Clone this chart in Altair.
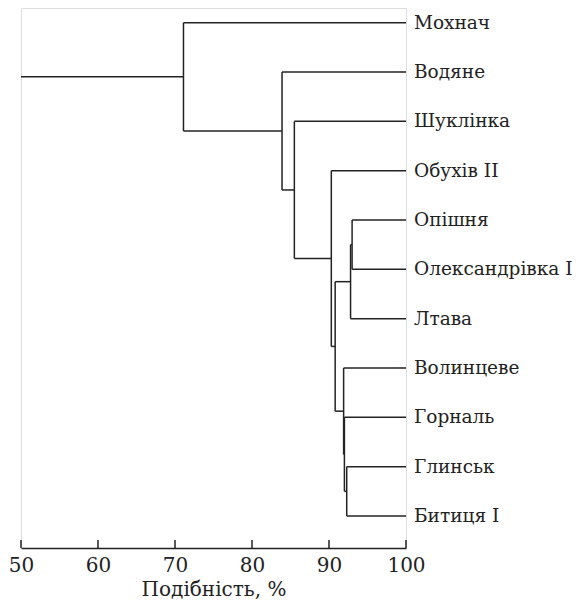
import altair as alt
import pandas as pd

# Leaves (top to bottom)
leaves = ["Мохнач", "Водяне", "Шуклінка", "Обухів II", "Опішня",
          "Олександрівка I", "Лтава", "Волинцеве", "Горналь", "Глинськ", "Битиця I"]

# Merges: child a, child b (leaf index or node ref "N<k>"), similarity %
merge_a = [4, "N0", 9, 8, 7, "N1", 3, 2, 1, 0]
merge_b = [5, 6, 10, "N2", "N3", "N4", "N5", "N6", "N7", "N8"]
merge_val = [93.0, 92.8, 92.3, 92.0, 91.9, 90.8, 90.3, 85.5, 83.9, 71.1]

root_start = 50
ticks = [50, 60, 70, 80, 90, 100]
leaf_end = 100

pos = {}
for i, name in enumerate(leaves):
    pos[i] = (i, leaf_end)

segs = []
for k, (a, b, v) in enumerate(zip(merge_a, merge_b, merge_val)):
    ya, xa = pos[a]
    yb, xb = pos[b]
    segs.append(dict(x=v, x2=xa, y=ya, y2=ya))
    segs.append(dict(x=v, x2=xb, y=yb, y2=yb))
    segs.append(dict(x=v, x2=v, y=ya, y2=yb))
    pos["N%d" % k] = ((ya + yb) / 2, v)

top_y, top_x = pos["N%d" % (len(merge_val) - 1)]
segs.append(dict(x=root_start, x2=top_x, y=top_y, y2=top_y))
seg_df = pd.DataFrame(segs)

lab_df = pd.DataFrame({"name": leaves, "y": list(range(len(leaves))), "x": [leaf_end] * len(leaves)})
tick_df = pd.DataFrame({"t": ticks})

FONT = "DejaVu Serif"
FS = 20
LFS = 18.5
COL = "#222222"

xs = alt.Scale(domain=[50, 100], nice=False, zero=False)
ys = alt.Scale(domain=[-0.298, 10.649], reverse=True, nice=False, zero=False)

lines = alt.Chart(seg_df).mark_rule(color=COL, strokeWidth=1.5).encode(
    x=alt.X("x:Q", scale=xs, axis=alt.Axis(
        values=ticks, title="Подібність, %", grid=False, tickSize=0,
        labelFont=FONT, labelFontSize=FS, labelColor=COL, labelPadding=7,
        titleFont=FONT, titleFontSize=FS, titleFontWeight="normal", titleColor=COL,
        titlePadding=4, domainColor=COL, domainWidth=1.5, labelFlush=False)),
    x2="x2:Q",
    y=alt.Y("y:Q", scale=ys, axis=None),
    y2="y2:Q",
)

labels = alt.Chart(lab_df).mark_text(
    align="left", baseline="middle", dx=8, font=FONT, fontSize=LFS, color=COL
).encode(
    x=alt.X("x:Q", scale=xs),
    y=alt.Y("y:Q", scale=ys),
    text="name:N",
)

tickmarks = alt.Chart(tick_df).mark_rule(color=COL, strokeWidth=1.5).encode(
    x=alt.X("t:Q", scale=xs),
    y=alt.value(532),
    y2=alt.value(540),
)

chart = alt.layer(lines, tickmarks, labels).properties(
    width=385, height=540,
    autosize=alt.AutoSizeParams(type="none"),
    padding={"left": 13, "top": 0, "right": 170, "bottom": 55},
).configure_view(stroke=None).configure(background="white")

chart.save("out.html", embed_options={"renderer": "svg", "actions": False})
